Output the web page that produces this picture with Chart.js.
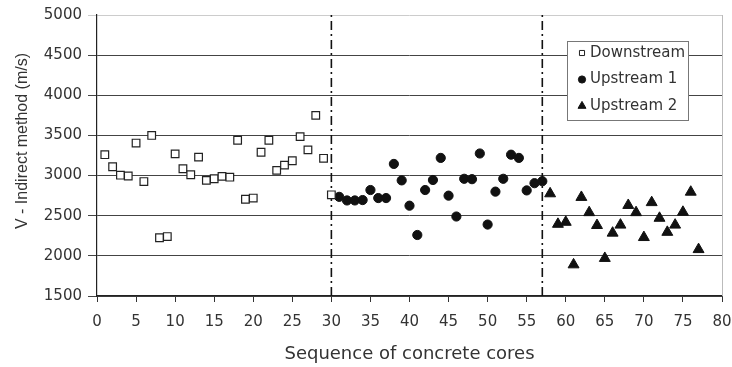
<!DOCTYPE html>
<html>
<head>
<meta charset="utf-8">
<script src="https://cdn.jsdelivr.net/npm/chart.js@4.4.1/dist/chart.umd.min.js"></script>
<style>
  html, body { margin: 0; padding: 0; background: #fff; }
</style>
</head>
<body>
<canvas id="cores" width="732" height="367"></canvas>
<script>
// core sequence numbers and pulse velocities (m/s)
const downstreamCores = [1, 2, 3, 4, 5, 6, 7, 8, 9, 10, 11, 12, 13, 14, 15, 16, 17, 18, 19, 20, 21, 22, 23, 24, 25, 26, 27, 28, 29, 30];
const downstreamV = [3260, 3110, 3005, 2995, 3405, 2925, 3500, 2225, 2240, 3270, 3085, 3010, 3230, 2940, 2960, 2990, 2980, 3440, 2705, 2720, 3290, 3440, 3065, 3130, 3185, 3485, 3320, 3750, 3215, 2760];

const upstream1Cores = [31, 32, 33, 34, 35, 36, 37, 38, 39, 40, 41, 42, 43, 44, 45, 46, 47, 48, 49, 50, 51, 52, 53, 54, 55, 56, 57];
const upstream1V = [2735, 2690, 2690, 2695, 2820, 2720, 2720, 3145, 2940, 2625, 2260, 2820, 2945, 3220, 2750, 2490, 2960, 2955, 3275, 2390, 2800, 2960, 3260, 3220, 2815, 2905, 2930];

const upstream2Cores = [58, 59, 60, 61, 62, 63, 64, 65, 66, 67, 68, 69, 70, 71, 72, 73, 74, 75, 76, 77];
const upstream2V = [2775, 2395, 2420, 1890, 2730, 2540, 2380, 1970, 2285, 2385, 2630, 2540, 2230, 2665, 2470, 2295, 2385, 2545, 2795, 2080];

// group boundaries (dash-dot lines)
const groupLimits = [30, 57];

const xRange = [0, 80];
const yRange = [1500, 5000];

const toPoints = (xs, ys) => xs.map((x, i) => ({ x: x, y: ys[i] }));

const limitSets = groupLimits.map(v => ({
    type: 'line',
    data: [{ x: v, y: yRange[0] }, { x: v, y: yRange[1] }],
    borderColor: '#111',
    borderWidth: 1.6,
    borderDash: [9, 4, 2, 4],
    pointRadius: 0,
    fill: false
}));

const boxLegend = {
    id: 'boxLegend',
    afterDatasetsDraw(chart) {
        const ctx = chart.ctx;
        const x = 567, y = 41, w = 121, h = 79;
        ctx.save();
        ctx.fillStyle = '#fff';
        ctx.fillRect(x, y, w, h);
        ctx.strokeStyle = '#777';
        ctx.lineWidth = 1;
        ctx.strokeRect(x + 0.5, y + 0.5, w, h);
        const sizes = [3.6, 3.6, 4.6];
        chart.data.datasets.slice(0, 3).forEach((ds, i) => {
            const cy = y + 12 + i * 26.5;
            ctx.fillStyle = ds.backgroundColor;
            ctx.strokeStyle = ds.borderColor;
            Chart.helpers.drawPoint(ctx, { pointStyle: ds.pointStyle, radius: sizes[i], borderWidth: 1, rotation: 0 }, x + 15, cy);
            ctx.fillStyle = '#333';
            ctx.font = '15px "DejaVu Sans"';
            ctx.textBaseline = 'middle';
            ctx.textAlign = 'left';
            ctx.fillText(ds.label, x + 23, cy);
        });
        ctx.restore();
    }
};

const frameText = {
    id: 'frameText',
    afterDraw(chart) {
        const ctx = chart.ctx;
        const a = chart.chartArea;
        ctx.save();
        // faint right edge
        ctx.strokeStyle = '#bbb';
        ctx.lineWidth = 1;
        ctx.beginPath();
        ctx.moveTo(a.right + 0.5, a.top);
        ctx.lineTo(a.right + 0.5, a.bottom);
        ctx.stroke();
        // y title
        ctx.translate(23, 141);
        ctx.rotate(-Math.PI / 2);
        ctx.fillStyle = '#333';
        ctx.font = '16px "Liberation Sans"';
        ctx.textAlign = 'center';
        ctx.textBaseline = 'middle';
        ctx.fillText('V - Indirect method (m/s)', 0, 0);
        ctx.restore();
    }
};

new Chart(document.getElementById('cores'), {
    type: 'scatter',
    data: {
        datasets: [
            {
                label: 'Downstream',
                data: toPoints(downstreamCores, downstreamV),
                pointStyle: 'rect',
                pointRadius: 5.4,
                pointBorderWidth: 1.2,
                backgroundColor: '#fff',
                borderColor: '#222'
            },
            {
                label: 'Upstream 1',
                data: toPoints(upstream1Cores, upstream1V),
                pointStyle: 'circle',
                pointRadius: 4.6,
                pointBorderWidth: 1,
                backgroundColor: '#111',
                borderColor: '#111'
            },
            {
                label: 'Upstream 2',
                data: toPoints(upstream2Cores, upstream2V),
                pointStyle: 'triangle',
                pointRadius: 6.3,
                pointBorderWidth: 1,
                backgroundColor: '#111',
                borderColor: '#111'
            },
            ...limitSets
        ]
    },
    options: {
        responsive: false,
        animation: false,
        layout: {
            padding: { left: 0, right: 0, top: 15, bottom: 0 }
        },
        plugins: {
            legend: { display: false },
            tooltip: { enabled: false }
        },
        scales: {
            x: {
                type: 'linear',
                min: xRange[0],
                max: xRange[1],
                afterFit: s => { s.height = 71; s.paddingRight = 10; },
                ticks: {
                    stepSize: 5,
                    padding: 11,
                    color: '#333',
                    font: { family: 'DejaVu Sans', size: 15 }
                },
                grid: {
                    drawOnChartArea: false,
                    tickLength: 6,
                    color: '#333'
                },
                border: { color: '#222', width: 1.2 },
                title: {
                    display: true,
                    text: 'Sequence of concrete cores',
                    color: '#333',
                    font: { family: 'DejaVu Sans', size: 18 },
                    padding: { top: 0, bottom: 2 }
                }
            },
            y: {
                min: yRange[0],
                max: yRange[1],
                afterFit: s => { s.width = 97; },
                ticks: {
                    stepSize: 500,
                    padding: 6,
                    color: '#333',
                    font: { family: 'DejaVu Sans', size: 15 },
                    callback: v => String(v)
                },
                grid: {
                    tickLength: 9,
                    color: c => c.tick && c.tick.value === yRange[1] ? '#ccc' : '#444',
                    lineWidth: 1
                },
                border: { color: '#222', width: 1.2 }
            }
        }
    },
    plugins: [boxLegend, frameText]
});
</script>
</body>
</html>
